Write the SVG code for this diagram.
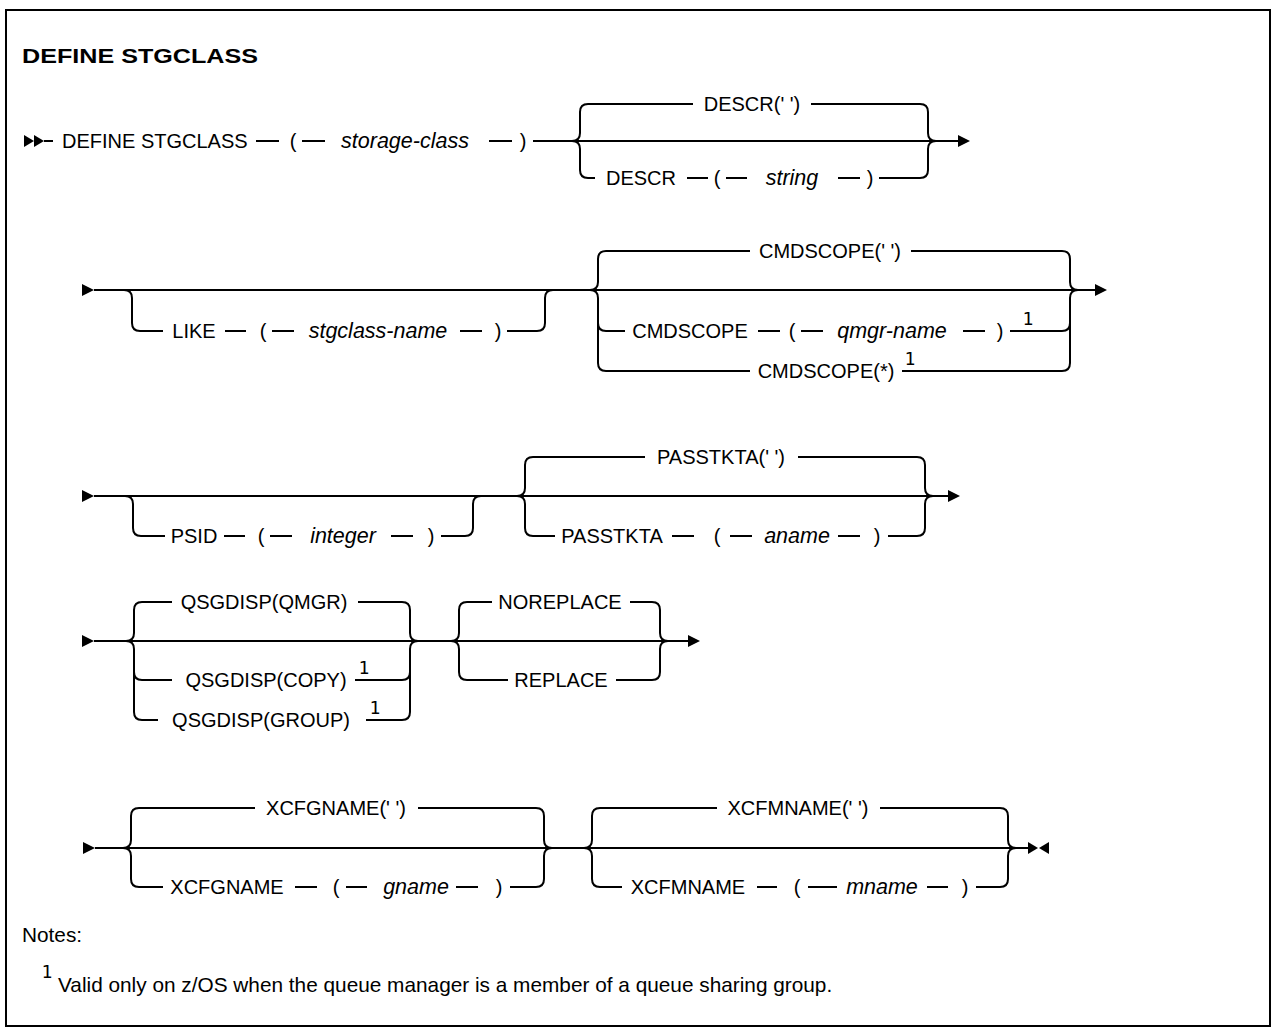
<svg xmlns="http://www.w3.org/2000/svg" width="1273" height="1029" viewBox="0 0 1273 1029">
<style>
.t{font-family:"Liberation Sans",Arial,sans-serif;font-size:20px;fill:#000}
.m{text-anchor:middle}
.i{font-style:italic;font-size:21.5px}
.b{font-weight:bold}
.s{font-family:"DejaVu Sans Mono","Liberation Mono",monospace;font-size:18px;fill:#000;text-anchor:middle}
.n{font-size:20.8px}
.ln{fill:none;stroke:#000;stroke-width:2}
.ah{fill:#000}
</style>
<rect x="6" y="10" width="1264" height="1016" fill="#fff" stroke="#000" stroke-width="2"/>
<g id="title"><text class="t b" x="22" y="63" font-size="22" textLength="236" lengthAdjust="spacingAndGlyphs">DEFINE STGCLASS</text></g>

<g id="connectors">
<!-- Row 1 -->
<polygon class="ah" points="24,135 34,141 24,147"/>
<polygon class="ah" points="34,135 44,141 34,147"/>
<path class="ln" d="M44,141H53 M256,141H279 M302,141H325 M489,141H512 M533,141H958"/>
<polygon class="ah" points="958,135 970,141 958,147"/>
<path class="ln" d="M572,141Q580,141 580,133V112Q580,104 588,104H693 M811,104H920Q928,104 928,112V133Q928,141 936,141"/>
<path class="ln" d="M572,141Q580,141 580,149V170Q580,178 588,178H595 M687,178H708 M726,178H747 M838,178H860 M879,178H920Q928,178 928,170V149Q928,141 936,141"/>
<!-- Row 2 -->
<polygon class="ah" points="82,284 94,290 82,296"/>
<path class="ln" d="M94,290H1095"/>
<polygon class="ah" points="1095,284 1107,290 1095,296"/>
<path class="ln" d="M124,290Q132,290 132,298V323Q132,331 140,331H163 M225,331H246 M272,331H294 M460,331H482 M507,331H537Q545,331 545,323V298Q545,290 553,290"/>
<path class="ln" d="M590,290Q598,290 598,282V259Q598,251 606,251H750 M911,251H1062Q1070,251 1070,259V282Q1070,290 1078,290"/>
<path class="ln" d="M590,290Q598,290 598,298V363Q598,371 606,371H750 M902,371H1062Q1070,371 1070,363V298Q1070,290 1078,290"/>
<path class="ln" d="M598,323Q598,331 606,331H625 M758,331H780 M801,331H823 M963,331H985 M1010,331H1062Q1070,331 1070,323"/>
<!-- Row 3 -->
<polygon class="ah" points="82,490 94,496 82,502"/>
<path class="ln" d="M94,496H948"/>
<polygon class="ah" points="948,490 960,496 948,502"/>
<path class="ln" d="M125,496Q133,496 133,504V528Q133,536 141,536H165 M224,536H245 M270,536H292 M391,536H413 M441,536H465Q473,536 473,528V504Q473,496 481,496"/>
<path class="ln" d="M517,496Q525,496 525,488V465Q525,457 533,457H645 M798,457H917Q925,457 925,465V488Q925,496 933,496"/>
<path class="ln" d="M517,496Q525,496 525,504V528Q525,536 533,536H555 M672,536H694 M730,536H752 M838,536H860 M888,536H917Q925,536 925,528V504Q925,496 933,496"/>
<!-- Row 4 -->
<polygon class="ah" points="82,635 94,641 82,647"/>
<path class="ln" d="M94,641H688"/>
<polygon class="ah" points="688,635 700,641 688,647"/>
<path class="ln" d="M126,641Q134,641 134,633V610Q134,602 142,602H172 M358,602H402Q410,602 410,610V633Q410,641 418,641"/>
<path class="ln" d="M126,641Q134,641 134,649V712Q134,720 142,720H158 M366,720H402Q410,720 410,712V649Q410,641 418,641"/>
<path class="ln" d="M134,672Q134,680 142,680H172 M355,680H402Q410,680 410,672"/>
<path class="ln" d="M451,641Q459,641 459,633V610Q459,602 467,602H492 M630,602H652Q660,602 660,610V633Q660,641 668,641"/>
<path class="ln" d="M451,641Q459,641 459,649V672Q459,680 467,680H508 M616,680H652Q660,680 660,672V649Q660,641 668,641"/>
<!-- Row 5 -->
<polygon class="ah" points="83,842 95,848 83,854"/>
<path class="ln" d="M95,848H1028"/>
<polygon class="ah" points="1028,842 1038,848 1028,854"/>
<polygon class="ah" points="1049,842 1039,848 1049,854"/>
<path class="ln" d="M123,848Q131,848 131,840V816Q131,808 139,808H255 M418,808H536Q544,808 544,816V840Q544,848 552,848"/>
<path class="ln" d="M123,848Q131,848 131,856V879Q131,887 139,887H163 M295,887H317 M346,887H367 M456,887H478 M510,887H536Q544,887 544,879V856Q544,848 552,848"/>
<path class="ln" d="M584,848Q592,848 592,840V816Q592,808 600,808H717 M880,808H1000Q1008,808 1008,816V840Q1008,848 1016,848"/>
<path class="ln" d="M584,848Q592,848 592,856V879Q592,887 600,887H622 M757,887H777 M808,887H837 M927,887H948 M976,887H1000Q1008,887 1008,879V856Q1008,848 1016,848"/>
</g>

<!-- Row 1 nodes -->
<g id="n-define"><text class="t" x="62" y="148">DEFINE STGCLASS</text></g>
<g id="n-lp1"><text class="t m" x="293" y="148">(</text></g>
<g id="n-storage-class"><text class="t m i" x="405" y="148">storage-class</text></g>
<g id="n-rp1"><text class="t m" x="523" y="148">)</text></g>
<g id="n-descr-default"><text class="t m" x="752" y="111">DESCR(' ')</text></g>
<g id="n-descr"><text class="t m" x="641" y="185">DESCR</text></g>
<g id="n-lp2"><text class="t m" x="717" y="185">(</text></g>
<g id="n-string"><text class="t m i" x="792" y="185">string</text></g>
<g id="n-rp2"><text class="t m" x="870" y="185">)</text></g>

<!-- Row 2 nodes -->
<g id="n-like"><text class="t m" x="194" y="338">LIKE</text></g>
<g id="n-lp3"><text class="t m" x="263" y="338">(</text></g>
<g id="n-stgclass-name"><text class="t m i" x="378" y="338">stgclass-name</text></g>
<g id="n-rp3"><text class="t m" x="498" y="338">)</text></g>
<g id="n-cmdscope-default"><text class="t m" x="830" y="258">CMDSCOPE(' ')</text></g>
<g id="n-cmdscope"><text class="t m" x="690" y="338">CMDSCOPE</text></g>
<g id="n-lp4"><text class="t m" x="792" y="338">(</text></g>
<g id="n-qmgr-name"><text class="t m i" x="892" y="338">qmgr-name</text></g>
<g id="n-rp4"><text class="t m" x="1000" y="338">)</text><text class="s" x="1028" y="325">1</text></g>
<g id="n-cmdscope-star"><text class="t m" x="826" y="378">CMDSCOPE(*)</text><text class="s" x="910" y="365">1</text></g>

<!-- Row 3 nodes -->
<g id="n-psid"><text class="t m" x="194" y="543">PSID</text></g>
<g id="n-lp5"><text class="t m" x="261" y="543">(</text></g>
<g id="n-integer"><text class="t m i" x="343" y="543">integer</text></g>
<g id="n-rp5"><text class="t m" x="431" y="543">)</text></g>
<g id="n-passtkta-default"><text class="t m" x="721" y="464">PASSTKTA(' ')</text></g>
<g id="n-passtkta"><text class="t m" x="612" y="543">PASSTKTA</text></g>
<g id="n-lp6"><text class="t m" x="717" y="543">(</text></g>
<g id="n-aname"><text class="t m i" x="797" y="543">aname</text></g>
<g id="n-rp6"><text class="t m" x="877" y="543">)</text></g>

<!-- Row 4 nodes -->
<g id="n-qsgdisp-qmgr"><text class="t m" x="264" y="609">QSGDISP(QMGR)</text></g>
<g id="n-qsgdisp-copy"><text class="t m" x="266" y="687">QSGDISP(COPY)</text><text class="s" x="364" y="674">1</text></g>
<g id="n-qsgdisp-group"><text class="t m" x="261" y="727">QSGDISP(GROUP)</text><text class="s" x="375" y="714">1</text></g>
<g id="n-noreplace"><text class="t m" x="560" y="609">NOREPLACE</text></g>
<g id="n-replace"><text class="t m" x="561" y="687">REPLACE</text></g>

<!-- Row 5 nodes -->
<g id="n-xcfgname-default"><text class="t m" x="336" y="815">XCFGNAME(' ')</text></g>
<g id="n-xcfgname"><text class="t m" x="227" y="894">XCFGNAME</text></g>
<g id="n-lp7"><text class="t m" x="336" y="894">(</text></g>
<g id="n-gname"><text class="t m i" x="416" y="894">gname</text></g>
<g id="n-rp7"><text class="t m" x="499" y="894">)</text></g>
<g id="n-xcfmname-default"><text class="t m" x="798" y="815">XCFMNAME(' ')</text></g>
<g id="n-xcfmname"><text class="t m" x="688" y="894">XCFMNAME</text></g>
<g id="n-lp8"><text class="t m" x="797" y="894">(</text></g>
<g id="n-mname"><text class="t m i" x="882" y="894">mname</text></g>
<g id="n-rp8"><text class="t m" x="965" y="894">)</text></g>

<!-- Notes -->
<g id="notes">
<text class="t n" x="22" y="942">Notes:</text>
<text class="s" x="47" y="978" font-size="15">1</text>
<text class="t n" x="58" y="992">Valid only on z/OS when the queue manager is a member of a queue sharing group.</text>
</g>
</svg>
